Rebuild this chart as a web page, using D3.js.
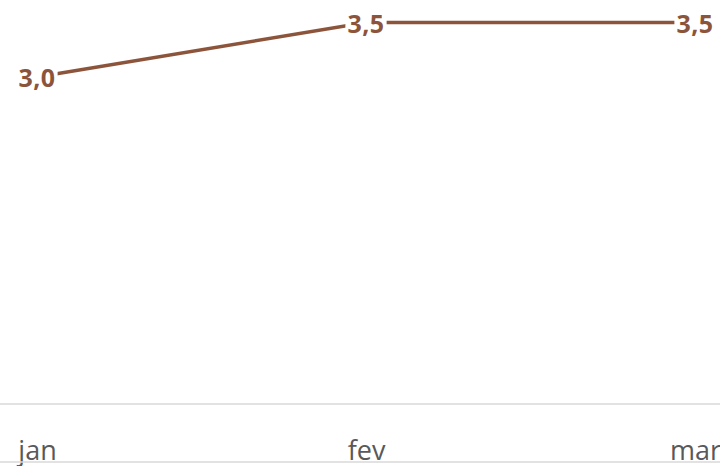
<!DOCTYPE html>
<html>
<head>
<meta charset="utf-8">
<script src="https://cdn.jsdelivr.net/npm/d3@7"></script>
<style>
  html, body { margin: 0; padding: 0; background: #fff; }
  svg { display: block; }
</style>
</head>
<body>
<svg id="chart" width="720" height="466"></svg>
<script>
const categories = ["jan", "fev", "mar"];
const values = [3.0, 3.5, 3.5];
const valueLabels = ["3,0", "3,5", "3,5"];
const yDomain = [0, 4];

const W = 720, H = 466;
const lineColor = "#8c553b";
const svg = d3.select("#chart");

const x = d3.scalePoint().domain(categories).range([37, 695]);
const y = d3.scaleLinear().domain(yDomain).range([404, -32]);

// axis baseline
svg.append("line")
  .attr("x1", 0).attr("x2", W)
  .attr("y1", y(0)).attr("y2", y(0))
  .attr("stroke", "#d9d9d9").attr("stroke-width", 1.5);

// category axis labels
const axis = d3.axisBottom(x).tickSize(0).tickPadding(0);
const gAxis = svg.append("g").attr("transform", `translate(0,${y(0)})`).call(axis);
gAxis.select(".domain").remove();
gAxis.selectAll("text")
  .attr("y", 56).attr("dy", 0)
  .attr("fill", "#595959")
  .style("font-family", "'Open Sans', sans-serif")
  .style("font-size", "27px");

// line
const data = categories.map((c, i) => ({ c, v: values[i], l: valueLabels[i] }));
svg.append("path")
  .datum(data)
  .attr("fill", "none")
  .attr("stroke", lineColor)
  .attr("stroke-width", 3.5)
  .attr("d", d3.line().x(d => x(d.c)).y(d => y(d.v)));

// data labels with white background
const lg = svg.append("g").selectAll("g").data(data).join("g")
  .attr("transform", d => `translate(${x(d.c)},${y(d.v)})`);
const txt = lg.append("text")
  .attr("text-anchor", "middle")
  .attr("dominant-baseline", "central")
  .attr("fill", lineColor)
  .style("font-family", "'Open Sans', sans-serif")
  .style("font-weight", "bold")
  .style("font-size", "25px")
  .style("letter-spacing", "0.5px")
  .text(d => d.l);
txt.each(function() {
  const b = this.getBBox();
  d3.select(this.parentNode).insert("rect", "text")
    .attr("x", b.x - 2).attr("y", b.y + 4)
    .attr("width", b.width + 4).attr("height", b.height - 8)
    .attr("fill", "#fff");
});

// bottom border line
svg.append("line")
  .attr("x1", 0).attr("x2", W)
  .attr("y1", 462).attr("y2", 462)
  .attr("stroke", "#d9d9d9").attr("stroke-width", 1.5);
</script>
</body>
</html>
